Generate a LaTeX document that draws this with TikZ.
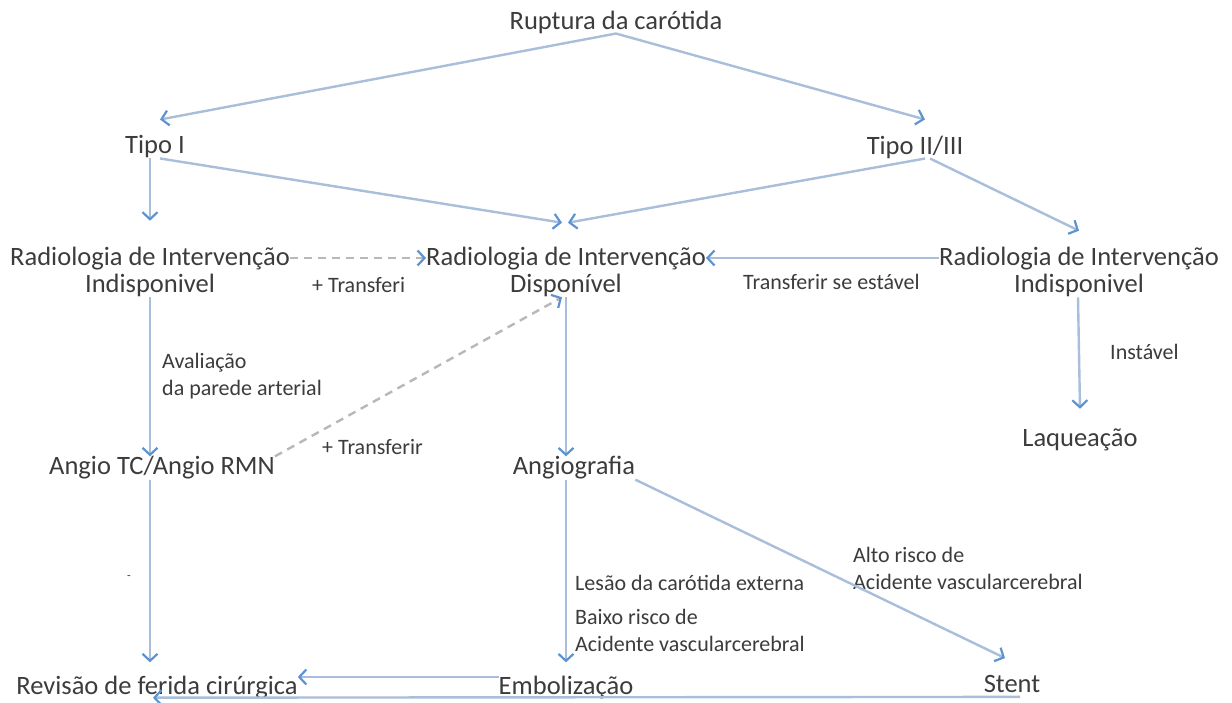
\documentclass[tikz,border=0pt]{standalone}
\usepackage{fontspec}
\setmainfont{Carlito}
\usetikzlibrary{arrows.meta}
\definecolor{ln}{HTML}{A8BEDA}
\definecolor{tipc}{HTML}{5E93D2}
\definecolor{txt}{HTML}{3C3C3C}
\definecolor{dsh}{HTML}{B8B8B8}
\begin{document}
\begin{tikzpicture}[x=1pt,y=-1pt,
 box/.style={inner sep=0pt, text=txt, font=\fontsize{26.5}{27.5}\selectfont, align=center},
 lbl/.style={inner sep=0pt, text=txt, font=\fontsize{22}{27}\selectfont, align=left, anchor=west},
 conn/.style={draw=ln, line width=2.4pt, -{Straight Barb[length=7pt,width=15pt,line width=2.2pt,color=tipc]}},
 dconn/.style={conn, draw=dsh, dash pattern=on 8pt off 6pt}]
\useasboundingbox[fill=white] (0,0) rectangle (1232,703);

\node[box] (rup) at (616,22) {Ruptura da carótida};
\node[box] (t1) at (155,147) {Tipo I};
\node[box] (t2) at (915,147) {Tipo II/III};
\node[box] (ril) at (150,272) {Radiologia de Intervenção\\Indisponivel};
\node[box] (rid) at (566,272) {Radiologia de Intervenção\\Disponível};
\node[box] (rir) at (1079,272) {Radiologia de Intervenção\\Indisponivel};
\node[box] (laq) at (1080,440) {Laqueação};
\node[box] (atc) at (162,468) {Angio TC/Angio RMN};
\node[box] (ang) at (574,468) {Angiografia};
\node[box] (rev) at (157,688) {Revisão de ferida cirúrgica};
\node[box] (emb) at (566,688) {Embolização};
\node[box] (ste) at (1012,684) {Stent};

\node[lbl] (l1) at (312,285) {+ Transferi};
\node[lbl] (l2) at (743,282) {Transferir se estável};
\node[lbl] (l3) at (162,376) {Avaliação\\da parede arterial};
\node[lbl] (l4) at (322,447) {+ Transferir};
\node[lbl] (l5) at (1110,352) {Instável};
\node[lbl] (l6) at (575,583) {Lesão da carótida externa};
\node[lbl] (l7) at (575,630) {Baixo risco de\\Acidente vascularcerebral};
\node[lbl] (l8) at (853,568) {Alto risco de\\Acidente vascularcerebral};
\node[lbl, font=\fontsize{12}{12}\selectfont] (l9) at (127,578) {-};

\draw[conn] (rup.south) -- ([xshift=5pt,yshift=16pt]t1.north);
\draw[conn] (rup.south) -- ([xshift=10pt,yshift=16pt]t2.north);
\draw[conn] ([xshift=-5pt]t1.south) -- ([yshift=26pt]ril.north);
\draw[conn] ([xshift=5pt]t1.south) -- ([xshift=-4pt,yshift=24pt]rid.north);
\draw[conn] ([xshift=10pt]t2.south) -- ([xshift=2pt,yshift=24pt]rid.north);
\draw[conn] ([xshift=15pt]t2.south) -- ([yshift=16pt]rir.north);
\draw[dconn] ([yshift=14pt]ril.east) -- ([yshift=14pt]rid.west);
\draw[conn] ([yshift=14pt]rir.west) -- ([yshift=14pt]rid.east);
\draw[conn] (ril.south) -- ([xshift=-12pt]atc.north);
\draw[dconn] (atc.north east) -- ([xshift=-4pt]rid.south);
\draw[conn] (rid.south) -- ([xshift=-8pt]ang.north);
\draw[conn] ([xshift=-1pt]rir.south) -- ([yshift=20pt]laq.north);
\draw[conn] ([xshift=-12pt]atc.south) -- ([xshift=-7pt,yshift=14pt]rev.north);
\draw[conn] ([xshift=-8pt]ang.south) -- ([yshift=14pt]emb.north);
\draw[conn] (ang.south east) -- ([xshift=-7pt,yshift=17pt]ste.north);
\draw[conn] ([yshift=11pt]emb.west) -- ([yshift=11pt]rev.east);
\draw[conn] ([xshift=8pt,yshift=-4pt]ste.south) -- ([xshift=-4pt,yshift=2pt]rev.south);
\end{tikzpicture}
\end{document}
